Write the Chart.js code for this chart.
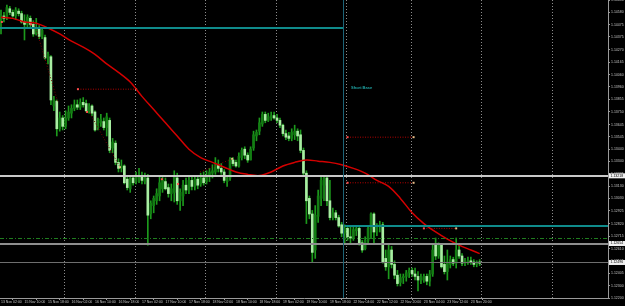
<!DOCTYPE html>
<html>
<head>
<meta charset="utf-8">
<script src="https://cdn.jsdelivr.net/npm/chart.js@4.4.0/dist/chart.umd.min.js"></script>
<style>
html, body { margin: 0; padding: 0; background: #000; }
canvas { display: block; }
</style>
</head>
<body>
<canvas id="chart" width="625" height="306"></canvas>
<script>
// Velas H1, una por barra (índice 0..163)
const open = [
1.1450,1.1455,1.1454,1.1461,1.1458,1.1455,1.1459,1.1457,1.1450,1.1448,
1.1453,1.1448,1.1440,1.1445,1.1438,1.1437,1.1420,1.1421,1.1380,1.1384,
1.1361,1.1370,1.1363,1.1370,1.1374,1.1378,1.1381,1.1379,1.1383,1.1382,
1.1376,1.1380,1.1375,1.1362,1.1366,1.1367,1.1362,1.1368,1.1345,1.1349,
1.1333,1.1328,1.1330,1.1319,1.1311,1.1320,1.1317,1.1319,1.1322,1.1317,
1.1320,1.1290,1.1297,1.1301,1.1305,1.1311,1.1317,1.1312,1.1307,1.1308,
1.1320,1.1301,1.1305,1.1314,1.1310,1.1318,1.1313,1.1319,1.1315,1.1320,
1.1317,1.1321,1.1324,1.1325,1.1331,1.1328,1.1325,1.1317,1.1320,1.1335,
1.1333,1.1330,1.1337,1.1344,1.1339,1.1335,1.1345,1.1355,1.1359,1.1365,
1.1373,1.1368,1.1370,1.1372,1.1370,1.1368,1.1364,1.1357,1.1355,1.1353,
1.1356,1.1359,1.1356,1.1343,1.1324,1.1303,1.1290,1.1260,1.1288,1.1303,
1.1314,1.1320,1.1301,1.1288,1.1291,1.1287,1.1281,1.1274,1.1278,1.1271,
1.1270,1.1276,1.1278,1.1266,1.1261,1.1268,1.1278,1.1290,1.1275,1.1280,
1.1281,1.1253,1.1246,1.1260,1.1248,1.1239,1.1233,1.1237,1.1238,1.1241,
1.1243,1.1240,1.1238,1.1235,1.1235,1.1238,1.1234,1.1240,1.1264,1.1255,
1.1264,1.1248,1.1242,1.1248,1.1252,1.1249,1.1260,1.1255,1.1249,1.1250,
1.1251,1.1250,1.1248,1.1250
];
const high = [
1.1460,1.1458,1.1464,1.1463,1.1460,1.1462,1.1461,1.1459,1.1456,1.1456,
1.1455,1.1451,1.1453,1.1447,1.1445,1.1439,1.1425,1.1422,1.1388,1.1385,
1.1375,1.1372,1.1376,1.1380,1.1381,1.1385,1.1385,1.1386,1.1387,1.1385,
1.1382,1.1381,1.1376,1.1370,1.1373,1.1370,1.1374,1.1370,1.1353,1.1351,
1.1336,1.1335,1.1331,1.1321,1.1321,1.1322,1.1325,1.1328,1.1325,1.1324,
1.1323,1.1301,1.1305,1.1311,1.1322,1.1321,1.1320,1.1315,1.1315,1.1326,
1.1324,1.1311,1.1318,1.1320,1.1322,1.1321,1.1322,1.1321,1.1324,1.1325,
1.1326,1.1328,1.1331,1.1337,1.1335,1.1332,1.1327,1.1322,1.1337,1.1337,
1.1335,1.1341,1.1345,1.1346,1.1341,1.1346,1.1359,1.1360,1.1370,1.1375,
1.1375,1.1374,1.1375,1.1375,1.1373,1.1370,1.1365,1.1360,1.1358,1.1361,
1.1364,1.1361,1.1360,1.1345,1.1326,1.1305,1.1293,1.1297,1.1310,1.1321,
1.1322,1.1321,1.1318,1.1295,1.1293,1.1289,1.1283,1.1281,1.1280,1.1279,
1.1280,1.1280,1.1280,1.1268,1.1271,1.1280,1.1291,1.1291,1.1282,1.1284,
1.1283,1.1260,1.1264,1.1263,1.1251,1.1243,1.1240,1.1240,1.1243,1.1245,
1.1245,1.1245,1.1242,1.1240,1.1240,1.1240,1.1243,1.1264,1.1270,1.1266,
1.1265,1.1255,1.1260,1.1255,1.1254,1.1270,1.1264,1.1257,1.1253,1.1254,
1.1254,1.1252,1.1251,1.1252
];
const low = [
1.1440,1.1450,1.1452,1.1456,1.1454,1.1452,1.1455,1.1449,1.1435,1.1446,
1.1445,1.1438,1.1439,1.1436,1.1436,1.1419,1.1415,1.1381,1.1376,1.1355,
1.1359,1.1360,1.1361,1.1368,1.1370,1.1376,1.1377,1.1377,1.1379,1.1375,
1.1374,1.1372,1.1359,1.1360,1.1363,1.1360,1.1355,1.1341,1.1341,1.1331,
1.1325,1.1325,1.1315,1.1310,1.1308,1.1314,1.1315,1.1316,1.1315,1.1315,
1.1264,1.1286,1.1291,1.1298,1.1301,1.1308,1.1310,1.1304,1.1301,1.1300,
1.1298,1.1293,1.1297,1.1307,1.1307,1.1310,1.1310,1.1311,1.1313,1.1314,
1.1315,1.1317,1.1320,1.1323,1.1325,1.1323,1.1316,1.1313,1.1318,1.1330,
1.1329,1.1329,1.1335,1.1336,1.1333,1.1335,1.1343,1.1351,1.1356,1.1363,
1.1366,1.1367,1.1368,1.1369,1.1366,1.1362,1.1355,1.1352,1.1351,1.1351,
1.1352,1.1351,1.1341,1.1322,1.1282,1.1286,1.1250,1.1253,1.1283,1.1297,
1.1301,1.1297,1.1285,1.1285,1.1285,1.1279,1.1271,1.1266,1.1268,1.1265,
1.1268,1.1272,1.1264,1.1258,1.1260,1.1265,1.1270,1.1265,1.1272,1.1275,
1.1249,1.1243,1.1236,1.1245,1.1236,1.1230,1.1230,1.1232,1.1234,1.1237,
1.1238,1.1235,1.1226,1.1232,1.1233,1.1231,1.1230,1.1238,1.1252,1.1253,
1.1245,1.1240,1.1235,1.1245,1.1247,1.1245,1.1253,1.1247,1.1247,1.1248,
1.1248,1.1246,1.1246,1.1247
];
const close = [
1.1455,1.1453,1.1462,1.1458,1.1455,1.1460,1.1457,1.1450,1.1448,1.1454,
1.1448,1.1440,1.1445,1.1438,1.1443,1.1420,1.1423,1.1385,1.1385,1.1361,
1.1370,1.1363,1.1370,1.1375,1.1378,1.1381,1.1379,1.1383,1.1381,1.1376,
1.1380,1.1374,1.1360,1.1367,1.1369,1.1362,1.1371,1.1343,1.1350,1.1333,
1.1328,1.1330,1.1316,1.1312,1.1320,1.1316,1.1321,1.1322,1.1318,1.1320,
1.1289,1.1299,1.1303,1.1307,1.1316,1.1318,1.1311,1.1307,1.1311,1.1321,
1.1301,1.1308,1.1314,1.1310,1.1318,1.1313,1.1319,1.1314,1.1320,1.1316,
1.1322,1.1325,1.1326,1.1331,1.1328,1.1325,1.1318,1.1320,1.1335,1.1332,
1.1330,1.1338,1.1343,1.1339,1.1335,1.1344,1.1356,1.1358,1.1366,1.1373,
1.1368,1.1371,1.1372,1.1370,1.1368,1.1364,1.1357,1.1354,1.1353,1.1358,
1.1359,1.1355,1.1343,1.1324,1.1301,1.1290,1.1258,1.1289,1.1305,1.1318,
1.1320,1.1301,1.1287,1.1291,1.1287,1.1280,1.1274,1.1278,1.1271,1.1270,
1.1277,1.1278,1.1266,1.1260,1.1268,1.1278,1.1290,1.1275,1.1280,1.1281,
1.1250,1.1246,1.1260,1.1248,1.1239,1.1232,1.1237,1.1238,1.1241,1.1243,
1.1240,1.1238,1.1235,1.1237,1.1238,1.1234,1.1240,1.1260,1.1255,1.1264,
1.1246,1.1242,1.1250,1.1252,1.1249,1.1260,1.1255,1.1249,1.1250,1.1251,
1.1250,1.1248,1.1250,1.1249
];

// Eje de tiempo: una etiqueta cada 8 barras, separadores de día
const xTickIdx = [0, 8, 16, 24, 32, 40, 48, 56, 64, 72, 80, 88, 96, 104, 112, 120, 128, 136, 144, 152, 160];
const xTickLabels = ['13 Nov 02:00', '15 Nov 10:00', '15 Nov 18:00', '16 Nov 02:00', '16 Nov 10:00', '16 Nov 18:00',
  '17 Nov 02:00', '17 Nov 10:00', '17 Nov 18:00', '18 Nov 02:00', '18 Nov 10:00', '18 Nov 18:00',
  '19 Nov 02:00', '19 Nov 10:00', '19 Nov 18:00', '22 Nov 04:00', '22 Nov 12:00', '22 Nov 20:00',
  '23 Nov 04:00', '23 Nov 12:00', '23 Nov 20:00'];
const daySeparators = [21.5, 45.5, 69.5, 93.5, 117.5, 139.5, 163.5, 187.5];

// Escala de precios
const yTicks = [1.12200, 1.12300, 1.12405, 1.12505, 1.12610, 1.12715, 1.12820, 1.12925, 1.13030, 1.13130,
  1.13235, 1.13340, 1.13440, 1.13545, 1.13645, 1.13750, 1.13855, 1.13960, 1.14060, 1.14165,
  1.14270, 1.14375, 1.14475, 1.14580, 1.14680];

// Media móvil (leída cada 4 barras)
const maIdx = [0, 4, 8, 12, 16, 20, 24, 28, 32, 36, 40, 44, 48, 52, 56, 60, 64, 68, 72, 76, 80,
  84, 88, 92, 96, 100, 104, 108, 112, 116, 120, 124, 128, 132, 136, 140, 144, 148, 152, 156, 160, 163];
const maValues = [1.1454, 1.1453, 1.1450, 1.1449, 1.1445, 1.1440, 1.1434, 1.1429, 1.1423, 1.1415, 1.1408,
  1.1400, 1.1388, 1.1377, 1.1366, 1.1355, 1.1344, 1.1337, 1.1333, 1.1329, 1.1325,
  1.1323, 1.1322, 1.1325, 1.1330, 1.1333, 1.1335, 1.1334, 1.1333, 1.1331, 1.1328,
  1.1324, 1.1318, 1.1313, 1.1303, 1.1291, 1.1282, 1.1275, 1.1269, 1.1264, 1.1260, 1.1257];

// Líneas horizontales: blanca, verde punto-raya, gris, bid
const levelPrices = [1.13218, 1.12700, 1.12654, 1.12496];
const zoneUpper = 1.1445, zoneUpperEnd = 116.45;
const zoneLower = 1.1280, zoneLowerStart = 117.1;

// Niveles punteados rojos con marcadores
const fibStart = [26.2, 118, 118, 144];
const fibEnd = [46, 140.5, 140.5, 155];
const fibPrice = [1.1394, 1.1354, 1.1316, 1.1278];

// Segmentos punteados (zigzag)
const zigStart = [11.6, 30.3, 67.8];
const zigEnd = [19.4, 40.5, 78.7];
const zigStartPrice = [1.1447, 1.1374, 1.1325];
const zigEndPrice = [1.1383, 1.1329, 1.1336];

// Marcadores sueltos
const redMarkX = [0.3, 10.2, 29.3, 54.8, 60.3];
const redMarkY = [1.1450, 1.1448, 1.1375, 1.1319, 1.1315];
const tanMarkX = [40.5, 78.7];
const tanMarkY = [1.1329, 1.1336];

const labelText = 'Short Base';
const labelX = 119.2, labelY = 1.1395;

// ---- datasets ----
const idx = open.map((_, i) => i);
const isBull = idx.map(i => close[i] >= open[i]);

const datasets = [
  {
    type: 'bar', label: 'body', order: 2, grouped: false, barThickness: 2, minBarLength: 1,
    data: idx.map(i => ({ x: i, y: [open[i], close[i]] })),
    backgroundColor: isBull.map(b => b ? '#137d13' : '#a8eea2'),
    borderWidth: 0
  },
  {
    type: 'bar', label: 'wick', order: 3, grouped: false, barThickness: 1,
    data: idx.map(i => ({ x: i, y: [low[i], high[i]] })),
    backgroundColor: '#1c9a1c',
    borderWidth: 0
  },
  {
    type: 'line', label: 'ma', order: 0,
    data: maIdx.map((v, k) => ({ x: v, y: maValues[k] })),
    borderColor: '#d40000', borderWidth: 1.5, pointRadius: 0, tension: 0.35
  }
];

fibPrice.forEach((p, k) => {
  datasets.push({
    type: 'line', order: 1,
    data: [{ x: fibStart[k], y: p }, { x: fibEnd[k], y: p }],
    borderColor: '#b30000', borderWidth: 1, borderDash: [1, 1.5],
    pointStyle: 'rect', pointRadius: 1.4, pointBorderWidth: 0,
    pointBackgroundColor: ['#ff4d4d', '#e6c08a']
  });
});

zigStart.forEach((s, k) => {
  datasets.push({
    type: 'line', order: 1,
    data: [{ x: s, y: zigStartPrice[k] }, { x: zigEnd[k], y: zigEndPrice[k] }],
    borderColor: '#7a0000', borderWidth: 1, borderDash: [1, 2], pointRadius: 0
  });
});

datasets.push({
  type: 'scatter', order: 0,
  data: redMarkX.map((v, k) => ({ x: v, y: redMarkY[k] })),
  pointStyle: 'rect', pointRadius: 1.4, pointBorderWidth: 0, backgroundColor: '#ff4d4d'
});
datasets.push({
  type: 'scatter', order: 0,
  data: tanMarkX.map((v, k) => ({ x: v, y: tanMarkY[k] })),
  pointStyle: 'rect', pointRadius: 1.4, pointBorderWidth: 0, backgroundColor: '#e6c08a'
});

// ---- líneas, separadores y etiquetas del eje ----
const overlay = {
  id: 'overlay',
  beforeDatasetsDraw(chart) {
    const { ctx, chartArea: a, scales: { x } } = chart;
    ctx.save();
    ctx.strokeStyle = '#8c8c8c';
    ctx.lineWidth = 1;
    ctx.setLineDash([1, 2]);
    daySeparators.forEach(v => {
      const px = Math.round(x.getPixelForValue(v)) + 0.5;
      ctx.beginPath(); ctx.moveTo(px, a.top); ctx.lineTo(px, a.bottom); ctx.stroke();
    });
    ctx.restore();
  },
  afterDatasetsDraw(chart) {
    const { ctx, chartArea: a, scales: { x, y } } = chart;
    const hline = (price, x0, x1, color, width, dash) => {
      const py = Math.round(y.getPixelForValue(price)) + (width % 2 ? 0.5 : 0);
      ctx.strokeStyle = color; ctx.lineWidth = width; ctx.setLineDash(dash || []);
      ctx.beginPath(); ctx.moveTo(x0, py); ctx.lineTo(x1, py); ctx.stroke();
    };
    ctx.save();
    hline(levelPrices[0], a.left, a.right, '#c8c8c8', 2);
    hline(levelPrices[1], a.left, a.right, '#1f7d1f', 1, [4, 2, 1, 2]);
    hline(levelPrices[2], a.left, a.right, '#8e8e8e', 2);
    hline(levelPrices[3], a.left, a.right, '#6e6e6e', 1);
    hline(zoneUpper, a.left, x.getPixelForValue(zoneUpperEnd), '#0f8b8b', 2);
    hline(zoneLower, x.getPixelForValue(zoneLowerStart), a.right, '#0f8b8b', 2);
    const vx = Math.round(x.getPixelForValue(zoneUpperEnd)) + 0.5;
    ctx.setLineDash([]);
    ctx.strokeStyle = '#1d6478'; ctx.lineWidth = 1;
    ctx.beginPath(); ctx.moveTo(vx, a.top); ctx.lineTo(vx, a.bottom); ctx.stroke();
    ctx.fillStyle = '#1fa3a3';
    ctx.font = 'bold 4px "Liberation Sans"';
    ctx.textBaseline = 'middle';
    ctx.fillText(labelText, x.getPixelForValue(labelX), y.getPixelForValue(labelY));
    ctx.restore();
  },
  afterDraw(chart) {
    const { ctx, chartArea: a, scales: { y } } = chart;
    ctx.save();
    ctx.font = '3.5px "Liberation Sans"';
    ctx.textBaseline = 'middle';
    [levelPrices[0], levelPrices[2], levelPrices[3]].forEach(p => {
      const py = y.getPixelForValue(p);
      ctx.fillStyle = '#f0f0f0';
      ctx.fillRect(a.right + 1, py - 2.5, 16, 5);
      ctx.fillStyle = '#000';
      ctx.fillText(p.toFixed(5), a.right + 2.5, py);
    });
    ctx.restore();
  }
};

new Chart(document.getElementById('chart'), {
  type: 'bar',
  data: { datasets },
  options: {
    responsive: false,
    animation: false,
    events: [],
    layout: { padding: 0, autoPadding: false },
    plugins: { legend: { display: false }, tooltip: { enabled: false } },
    scales: {
      x: {
        type: 'linear', min: -0.34, max: 206.7, offset: false,
        grid: { drawOnChartArea: false, drawTicks: true, tickLength: 2, color: '#9a9a9a' },
        border: { color: '#9a9a9a' },
        ticks: {
          autoSkip: false, maxRotation: 0, minRotation: 0, align: 'start', padding: 0,
          color: '#c4c4c4', font: { size: 3.5, family: 'Liberation Sans' },
          callback: (v, i) => xTickLabels[i]
        },
        afterBuildTicks: s => { s.ticks = xTickIdx.map(v => ({ value: v })); },
        afterFit: s => { s.height = 8; s.paddingLeft = 0; s.paddingRight = 0; }
      },
      y: {
        type: 'linear', position: 'right', min: 1.12200, max: 1.14683,
        grid: { drawOnChartArea: false, drawTicks: true, tickLength: 2, color: '#9a9a9a' },
        border: { color: '#9a9a9a' },
        ticks: {
          padding: 1, color: '#c4c4c4', font: { size: 3.5, family: 'Liberation Sans' },
          callback: v => v.toFixed(5)
        },
        afterBuildTicks: s => { s.ticks = yTicks.map(v => ({ value: v })); },
        afterFit: s => { s.width = 17; s.paddingTop = 0; s.paddingBottom = 0; }
      }
    }
  },
  plugins: [overlay]
});
</script>
</body>
</html>
